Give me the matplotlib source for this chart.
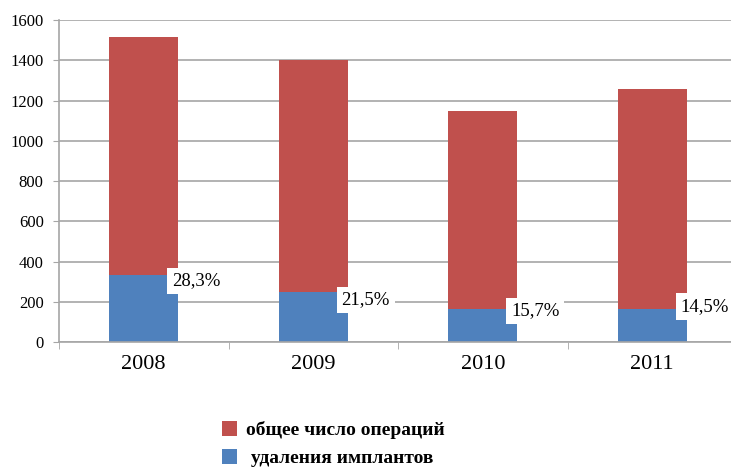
import numpy as np
import matplotlib.pyplot as plt

plt.rcParams['font.family'] = ['Liberation Serif', 'DejaVu Serif']

years = ['2008', '2009', '2010', '2011']
total_ops = [1180, 1152, 984, 1094]      # общее число операций
removals = [334, 251, 164, 164]          # удаления имплантов
share = [28.3, 21.5, 15.7, 14.5]         # доля удалений, %

red = '#C0504D'
blue = '#4F81BD'
grid_c = '#A6A6A6'

fig = plt.figure(figsize=(7.31, 4.68), dpi=100)
ax = fig.add_axes([59 / 731, 1 - 342.3 / 468, 678 / 731, 322.3 / 468])

x = np.arange(len(years))
w = 0.41
ax.bar(x, removals, w, color=blue, zorder=2, label=' удаления имплантов')
ax.bar(x, total_ops, w, bottom=removals, color=red, zorder=2,
       label='общее число операций')

# подписи долей в белых рамках справа от столбцов
dy = [-30, -41, -9, 12]
for i in range(len(years)):
    ax.text(x[i] + 0.31, removals[i] + dy[i], f'{share[i]:.1f}%'.replace('.', ','),
            ha='center', va='center', fontsize=13.5, zorder=3,
            bbox=dict(facecolor='white', edgecolor='none', pad=3.5))

ax.set_xlim(-0.5, 3.5)
ax.set_ylim(0, 1600)
ax.set_yticks(range(0, 1601, 200))
ax.yaxis.grid(True, color=grid_c, linewidth=1.2, zorder=0)
ax.set_xticks(x)
ax.set_xticklabels(years, fontsize=16)
ax.set_xticks(np.arange(-0.5, 4, 1), minor=True)
ax.tick_params(axis='x', which='major', length=0, pad=9)
ax.tick_params(axis='x', which='minor', length=5, color=grid_c, direction='out')
ax.tick_params(axis='y', length=4, color=grid_c, labelsize=12, pad=7)

for s in ['top', 'right']:
    ax.spines[s].set_visible(False)
for s in ['left', 'bottom']:
    ax.spines[s].set_color(grid_c)
    ax.spines[s].set_linewidth(1.2)

h, l = ax.get_legend_handles_labels()
fig.legend(h[::-1], l[::-1], loc='center left', bbox_to_anchor=(204 / 731, 1 - 444 / 468),
           frameon=False, prop={'size': 14, 'weight': 'bold'},
           handlelength=0.8, handleheight=0.8, handletextpad=0.45, labelspacing=0.5)

fig.savefig('out.png', dpi=100)
